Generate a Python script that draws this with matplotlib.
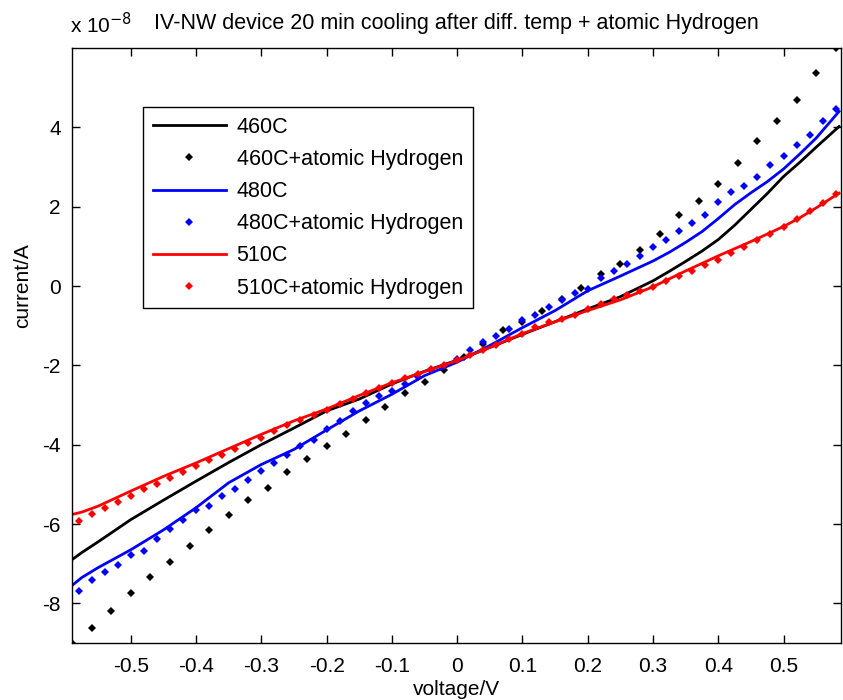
import matplotlib
matplotlib.use("Agg")
import matplotlib.pyplot as plt

plt.rcParams['font.family'] = ['Liberation Sans', 'DejaVu Sans']
plt.rcParams['axes.unicode_minus'] = False

# x 10^-8 A
# plain measurement lines (no hydrogen)
v_line = [-0.59, -0.575, -0.55, -0.50, -0.45, -0.40, -0.35, -0.30, -0.25, -0.20, -0.15, -0.10, -0.05,
          0.00, 0.05, 0.10, 0.15, 0.20, 0.25, 0.30, 0.325, 0.35, 0.375, 0.40, 0.425, 0.45, 0.475,
          0.50, 0.525, 0.55, 0.585]
i_460 = [-6.90, -6.72, -6.45, -5.89, -5.40, -4.92, -4.45, -4.00, -3.58, -3.15, -2.85, -2.47, -2.15,
         -1.87, -1.55, -1.22, -0.90, -0.58, -0.27, 0.13, 0.37, 0.62, 0.88, 1.17, 1.53, 1.93, 2.33,
         2.76, 3.12, 3.50, 4.02]
i_480 = [-7.55, -7.35, -7.10, -6.65, -6.15, -5.59, -4.96, -4.50, -4.12, -3.63, -3.15, -2.73, -2.26,
         -1.92, -1.50, -1.05, -0.62, -0.12, 0.25, 0.63, 0.85, 1.10, 1.37, 1.70, 2.05, 2.35, 2.63,
         2.95, 3.33, 3.73, 4.40]
i_510 = [-5.76, -5.70, -5.55, -5.17, -4.80, -4.46, -4.10, -3.74, -3.40, -3.10, -2.76, -2.44, -2.16,
         -1.88, -1.55, -1.20, -0.90, -0.62, -0.35, -0.02, 0.18, 0.38, 0.57, 0.76, 0.94, 1.12, 1.31,
         1.50, 1.72, 1.97, 2.34]

# 460C + atomic hydrogen (step 0.03 V)
v_460h = [-0.59, -0.56, -0.53, -0.50, -0.47, -0.44, -0.41, -0.38, -0.35, -0.32,
          -0.29, -0.26, -0.23, -0.20, -0.17, -0.14, -0.11, -0.08, -0.05, -0.02,
          0.01, 0.04, 0.07, 0.10, 0.13, 0.16, 0.19, 0.22, 0.25, 0.28,
          0.31, 0.34, 0.37, 0.40, 0.43, 0.46, 0.49, 0.52, 0.55, 0.58]
i_460h = [-9.00, -8.63, -8.20, -7.75, -7.34, -6.96, -6.55, -6.15, -5.77, -5.39,
          -5.09, -4.68, -4.36, -4.03, -3.72, -3.39, -3.05, -2.70, -2.41, -2.13,
          -1.80, -1.45, -1.12, -0.90, -0.64, -0.32, -0.05, 0.31, 0.56, 0.92,
          1.32, 1.79, 2.15, 2.57, 3.10, 3.66, 4.17, 4.68, 5.37, 6.00]

# 480C / 510C + atomic hydrogen (step 0.02 V)
v_h = [-0.58, -0.56, -0.54, -0.52, -0.50, -0.48, -0.46, -0.44, -0.42, -0.40,
       -0.38, -0.36, -0.34, -0.32, -0.30, -0.28, -0.26, -0.24, -0.22, -0.20,
       -0.18, -0.16, -0.14, -0.12, -0.10, -0.08, -0.06, -0.04, -0.02, 0.00,
       0.02, 0.04, 0.06, 0.08, 0.10, 0.12, 0.14, 0.16, 0.18, 0.20,
       0.22, 0.24, 0.26, 0.28, 0.30, 0.32, 0.34, 0.36, 0.38, 0.40,
       0.42, 0.44, 0.46, 0.48, 0.50, 0.52, 0.54, 0.56, 0.58]
i_480h = [-7.70, -7.41, -7.22, -7.03, -6.78, -6.67, -6.38, -6.13, -5.89, -5.65,
          -5.55, -5.30, -5.11, -4.88, -4.67, -4.47, -4.25, -4.03, -3.87, -3.61,
          -3.40, -3.15, -2.94, -2.77, -2.64, -2.47, -2.30, -2.13, -2.01, -1.85,
          -1.62, -1.40, -1.25, -1.08, -0.85, -0.74, -0.53, -0.35, -0.17, -0.07,
          0.20, 0.37, 0.56, 0.76, 0.99, 1.16, 1.38, 1.60, 1.79, 2.11,
          2.38, 2.51, 2.76, 3.06, 3.27, 3.56, 3.80, 4.17, 4.45]
i_510h = [-5.93, -5.76, -5.59, -5.45, -5.30, -5.13, -5.00, -4.84, -4.69, -4.54,
          -4.39, -4.25, -4.10, -3.95, -3.82, -3.66, -3.50, -3.38, -3.25, -3.12,
          -2.98, -2.84, -2.70, -2.57, -2.45, -2.33, -2.22, -2.10, -1.98, -1.87,
          -1.75, -1.62, -1.48, -1.33, -1.20, -1.03, -0.92, -0.82, -0.72, -0.58,
          -0.45, -0.33, -0.23, -0.12, -0.02, 0.12, 0.25, 0.38, 0.52, 0.66,
          0.84, 0.98, 1.15, 1.32, 1.50, 1.68, 1.88, 2.10, 2.32]

xticks = [-0.5, -0.4, -0.3, -0.2, -0.1, 0, 0.1, 0.2, 0.3, 0.4, 0.5]
xticklabels = ['-0.5', '-0.4', '-0.3', '-0.2', '-0.1', '0', '0.1', '0.2', '0.3', '0.4', '0.5']
yticks = [-8, -6, -4, -2, 0, 2, 4]

fig = plt.figure(figsize=(8.43, 7.0), dpi=100)
ax = fig.add_axes([72 / 843, 57 / 700, (841 - 72) / 843, (643 - 48) / 700])

ax.plot(v_line, i_460, color='k', lw=2, label='460C')
ax.plot(v_460h, i_460h, 'D', color='k', ms=4.5, mew=0, label='460C+atomic Hydrogen')
ax.plot(v_line, i_480, color='b', lw=2, label='480C')
ax.plot(v_h, i_480h, 'D', color='b', ms=4.5, mew=0, label='480C+atomic Hydrogen')
ax.plot(v_line, i_510, color='r', lw=2, label='510C')
ax.plot(v_h, i_510h, 'D', color='r', ms=4.5, mew=0, label='510C+atomic Hydrogen')

ax.set_xlim(-0.59, 0.588)
ax.set_ylim(-9, 6)
ax.set_xticks(xticks)
ax.set_xticklabels(xticklabels)
ax.set_yticks(yticks)
ax.tick_params(direction='in', length=6, width=1, labelsize=15, top=True, right=True, pad=8)
ax.tick_params(axis='x', pad=10)
for s in ax.spines.values():
    s.set_linewidth(1)

ax.set_xlabel('voltage/V', fontsize=15, labelpad=3)
ax.set_ylabel('current/A', fontsize=15)
ax.yaxis.set_label_coords(-0.052, 0.6)
ax.set_title('IV-NW device 20 min cooling after diff. temp + atomic Hydrogen', fontsize=15.5, pad=14)
fig.text(70 / 843, 1 - 33 / 700, 'x 10$^{-8}$', fontsize=15, ha='left', va='baseline')

leg = ax.legend(loc='upper left', bbox_to_anchor=(143 / 843, 1 - 107 / 700), bbox_transform=fig.transFigure,
                fontsize=15.5, fancybox=False, edgecolor='k', framealpha=1, borderaxespad=0,
                handlelength=3.4, handletextpad=0.5, labelspacing=0.52, borderpad=0.45, markerscale=0.8)
leg.get_frame().set_linewidth(1)

fig.savefig('out.png', dpi=100)
